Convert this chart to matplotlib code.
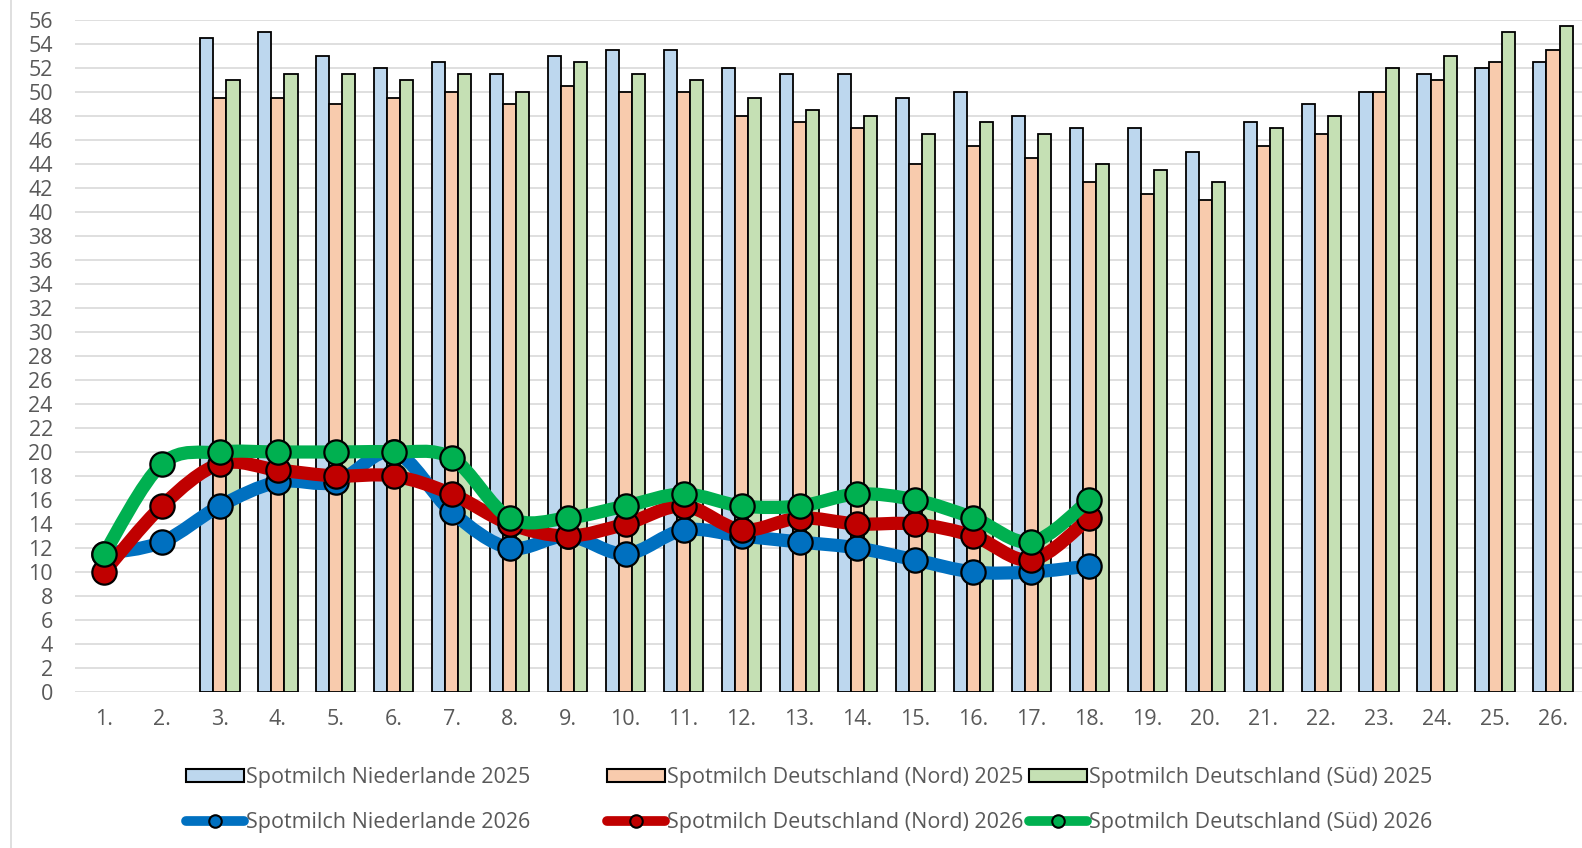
import numpy as np
import matplotlib.pyplot as plt
from matplotlib.path import Path
from matplotlib.patches import PathPatch, Patch
from matplotlib.lines import Line2D

plt.rcParams['font.family'] = ['Open Sans', 'DejaVu Sans']

weeks = ['1.', '2.', '3.', '4.', '5.', '6.', '7.', '8.', '9.', '10.', '11.', '12.', '13.',
         '14.', '15.', '16.', '17.', '18.', '19.', '20.', '21.', '22.', '23.', '24.', '25.', '26.']

# 2025 spot milk prices (no values for weeks 1 and 2)
nl_2025 = [np.nan, np.nan, 54.5, 55, 53, 52, 52.5, 51.5, 53, 53.5, 53.5, 52, 51.5,
           51.5, 49.5, 50, 48, 47, 47, 45, 47.5, 49, 50, 51.5, 52, 52.5]
nord_2025 = [np.nan, np.nan, 49.5, 49.5, 49, 49.5, 50, 49, 50.5, 50, 50, 48, 47.5,
             47, 44, 45.5, 44.5, 42.5, 41.5, 41, 45.5, 46.5, 50, 51, 52.5, 53.5]
sued_2025 = [np.nan, np.nan, 51, 51.5, 51.5, 51, 51.5, 50, 52.5, 51.5, 51, 49.5, 48.5,
             48, 46.5, 47.5, 46.5, 44, 43.5, 42.5, 47, 48, 52, 53, 55, 55.5]

# 2026 spot milk prices, weeks 1-18
nl_2026 = [11.5, 12.5, 15.5, 17.5, 17.5, 20, 15, 12, 13, 11.5, 13.5, 13, 12.5, 12, 11, 10, 10, 10.5]
nord_2026 = [10, 15.5, 19, 18.5, 18, 18, 16.5, 14, 13, 14, 15.5, 13.5, 14.5, 14, 14, 13, 11, 14.5]
sued_2026 = [11.5, 19, 20, 20, 20, 20, 19.5, 14.5, 14.5, 15.5, 16.5, 15.5, 15.5, 16.5, 16, 14.5, 12.5, 16]

labels_2025 = ['Spotmilch Niederlande 2025', 'Spotmilch Deutschland (Nord) 2025',
               'Spotmilch Deutschland (Süd) 2025']
labels_2026 = ['Spotmilch Niederlande 2026', 'Spotmilch Deutschland (Nord) 2026',
               'Spotmilch Deutschland (Süd) 2026']

bar_colors = ['#BDD7EE', '#F8CBAD', '#C5E0B4']
line_colors = ['#0070C0', '#C00000', '#00B050']
text_color = '#595959'


def smooth_path(xs, ys):
    # Excel-like smoothed line (Catmull-Rom as cubic Bezier)
    pts = np.column_stack([xs, ys]).astype(float)
    n = len(pts)
    verts = [pts[0]]
    codes = [Path.MOVETO]
    for i in range(n - 1):
        p0 = pts[max(i - 1, 0)]
        p1 = pts[i]
        p2 = pts[i + 1]
        p3 = pts[min(i + 2, n - 1)]
        verts += [p1 + (p2 - p0) / 6, p2 - (p3 - p1) / 6, p2]
        codes += [Path.CURVE4] * 3
    return Path(verts, codes)


fig = plt.figure(figsize=(15.82, 8.48), dpi=100)
ax = fig.add_axes([75 / 1582, 156 / 848, 1507 / 1582, 672 / 848])

x = np.arange(len(weeks))
w = 0.226
for k, (vals, col) in enumerate(zip([nl_2025, nord_2025, sued_2025], bar_colors)):
    ax.bar(x + (k - 1) * w, vals, width=w, color=col, edgecolor='black', linewidth=1.3, zorder=2)

for k, (vals, col) in enumerate(zip([nl_2026, nord_2026, sued_2026], line_colors)):
    xs = np.arange(len(vals))
    ax.add_patch(PathPatch(smooth_path(xs, vals), fill=False, edgecolor=col, lw=9.5,
                           capstyle='round', joinstyle='round', zorder=3 + k * 0.2))
    ax.plot(xs, vals, 'o', ms=17.5, mfc=col, mec='black', mew=1.6, zorder=3.1 + k * 0.2)

ax.set_xlim(-0.5, len(weeks) - 0.5)
ax.set_ylim(0, 56)
ax.set_yticks(np.arange(0, 57, 2))
ax.set_xticks(x)
ax.set_xticklabels(weeks)
ax.tick_params(axis='both', length=0, labelsize=15.5, labelcolor=text_color)
ax.tick_params(axis='y', pad=16)
ax.tick_params(axis='x', pad=12)
ax.yaxis.grid(True, color='#D9D9D9', lw=1.2, zorder=0)
ax.set_axisbelow(True)
for s in ax.spines.values():
    s.set_visible(False)

# left border of the chart area
fig.add_artist(Line2D([11 / 1582, 11 / 1582], [0, 1], color='#D9D9D9', lw=1.2))

col_x = [186, 607, 1029]
for k in range(3):
    handles = [Patch(facecolor=bar_colors[k], edgecolor='black', lw=1.5),
               Line2D([], [], color=line_colors[k], lw=7, marker='o', ms=9,
                      mfc=line_colors[k], mec='black', mew=1.5, solid_capstyle='round')]
    fig.legend(handles, [labels_2025[k], labels_2026[k]], loc='center left',
               bbox_to_anchor=(col_x[k] / 1582, 1 - 800 / 848), frameon=False,
               fontsize=15.5, labelcolor=text_color, borderpad=0, borderaxespad=0,
               handlelength=2.7, handleheight=0.6, handletextpad=0.1, labelspacing=1.1)

fig.savefig('out.png', dpi=100)
